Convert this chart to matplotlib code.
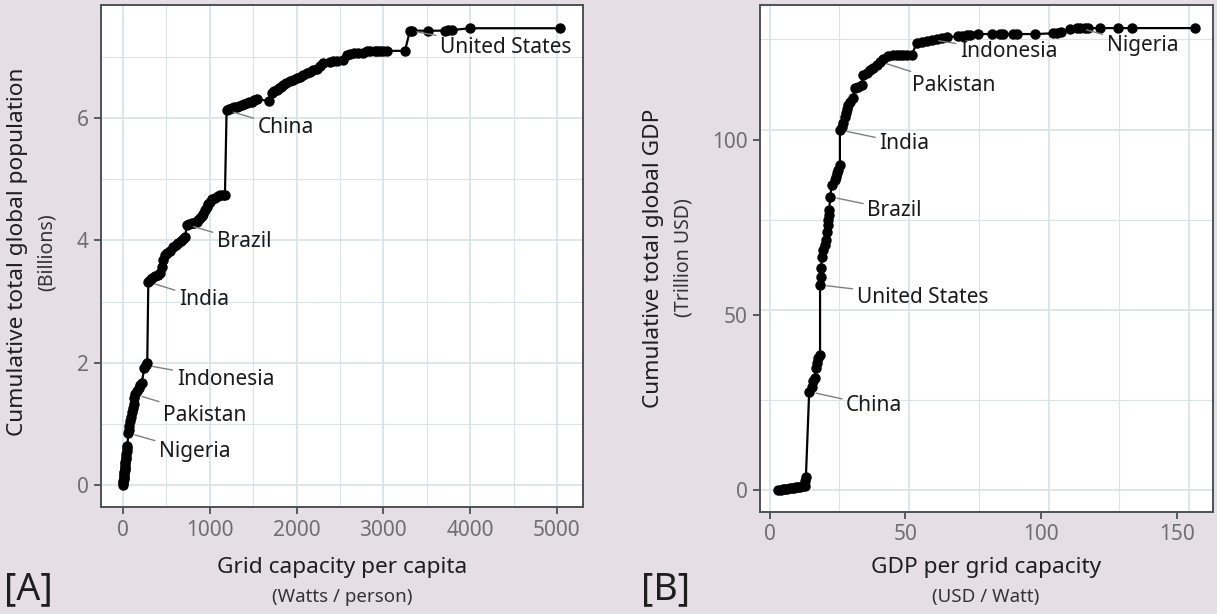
import matplotlib
matplotlib.use("Agg")
import matplotlib.pyplot as plt

plt.rcParams['font.family'] = ['Noto Sans', 'DejaVu Sans']

# panel A: grid capacity per capita (W/person) vs cumulative population (billions)
pop_capacity = [2, 4, 6, 8, 10, 12, 14, 16, 19, 21, 23, 26, 29, 32, 36, 40, 43, 47, 52,
                60, 66, 72, 80, 90, 100, 110, 122, 132,
                142, 160, 180, 200, 215, 248,
                262, 280,
                292, 311, 340, 369, 400, 426, 446, 465, 484, 512, 541, 580, 610, 637, 665, 695, 718,
                734, 762, 791, 820, 849, 870, 887, 905, 925, 945, 964, 985, 1002, 1030, 1060, 1090, 1117, 1150, 1175,
                1194, 1220, 1252, 1280, 1310, 1340, 1367, 1395, 1425, 1455, 1483, 1510, 1540, 1686, 1713, 1740,
                1771, 1800, 1820, 1847, 1880, 1924, 1960, 2001, 2040, 2077, 2120, 2154, 2190, 2231, 2270, 2307,
                2385, 2420, 2462, 2538, 2577, 2620, 2660, 2711, 2760, 2807, 2850, 2900, 2922, 2961, 2995, 3038, 3249,
                3306, 3330, 3518, 3710, 3740, 3787, 3998, 5035]
pop_cumulative = [0.00, 0.03, 0.06, 0.09, 0.12, 0.15, 0.18, 0.21, 0.24, 0.27, 0.30, 0.34, 0.38, 0.42, 0.46, 0.50, 0.55, 0.60, 0.64,
                  0.85, 0.90, 0.96, 1.04, 1.12, 1.20, 1.26, 1.33, 1.42,
                  1.48, 1.53, 1.58, 1.63, 1.67, 1.92,
                  1.96, 2.00,
                  3.32, 3.35, 3.38, 3.41, 3.44, 3.47, 3.57, 3.68, 3.76, 3.80, 3.83, 3.90, 3.93, 3.96, 3.99, 4.02, 4.05,
                  4.26, 4.27, 4.28, 4.29, 4.30, 4.33, 4.36, 4.40, 4.44, 4.50, 4.55, 4.59, 4.63, 4.67, 4.70, 4.72, 4.74, 4.75, 4.75,
                  6.13, 6.15, 6.16, 6.18, 6.19, 6.20, 6.21, 6.23, 6.24, 6.26, 6.27, 6.29, 6.31, 6.28, 6.41, 6.44,
                  6.46, 6.49, 6.51, 6.54, 6.57, 6.60, 6.62, 6.65, 6.67, 6.70, 6.73, 6.76, 6.78, 6.81, 6.85, 6.90,
                  6.92, 6.93, 6.94, 6.95, 7.03, 7.05, 7.06, 7.06, 7.07, 7.09, 7.09, 7.09, 7.09, 7.10, 7.10, 7.10, 7.10,
                  7.43, 7.43, 7.43, 7.43, 7.44, 7.44, 7.47, 7.47]

# panel B: GDP per grid capacity (USD/W) vs cumulative GDP (trillion USD)
gdp_per_capacity = [3.3, 4.2, 5.0, 5.8, 6.6, 7.4, 8.2, 9.0, 9.8, 10.6, 11.4, 12.2, 13.0, 13.2, 13.4,
                    14.6, 15.5, 16.1, 16.7, 17.0, 17.4, 18.0, 18.6,
                    18.6, 18.8, 19.0, 19.2, 19.8, 20.4, 20.8, 21.0, 21.4, 21.6, 21.9, 22.0,
                    22.3, 22.9, 24.1, 24.5, 24.7, 25.3, 25.9,
                    25.9, 26.6, 27.2, 27.8, 28.1, 28.6, 29.0, 29.6, 30.6, 31.4, 32.7, 33.9, 34.5, 35.8, 37.0, 38.2, 39.5,
                    40.7, 41.9, 43.7, 45.6, 47.0, 48.0, 49.2, 50.5, 52.3, 54.2, 56.0, 57.9,
                    59.7, 61.5, 63.4, 65.2, 69.5, 70.7, 72.6, 73.7, 76.8, 81.7, 84.8, 86.0, 89.6, 90.9, 97.6,
                    104.3, 105.7, 107.4, 110.5, 113.0,
                    114.2, 116.0, 117.3, 121.6, 128.3, 133.3, 156.6]
gdp_cumulative = [0.0, 0.1, 0.2, 0.3, 0.4, 0.5, 0.6, 0.7, 0.8, 0.8, 0.9, 1.0, 1.2, 2.5, 3.8,
                  28.1, 29.5, 31.0, 31.9, 34.8, 36.2, 37.6, 38.6,
                  58.6, 61.0, 63.3, 66.7, 68.6, 70.0, 71.4, 73.8, 75.7, 77.1, 78.6, 80.0,
                  83.8, 87.1, 88.6, 89.5, 90.5, 91.4, 92.9,
                  102.9, 103.8, 104.8, 106.7, 107.6, 109.0, 110.0, 110.9, 111.9, 114.8, 115.2, 115.7, 118.6, 119.2, 120.0, 120.5, 121.4,
                  122.4, 123.3, 124.0, 124.3, 124.3, 124.3, 124.3, 124.3, 124.4, 127.6, 128.0, 128.4,
                  128.7, 129.0, 129.3, 129.5, 129.6, 129.7, 129.9, 130.0, 130.3, 130.3, 130.3, 130.3, 130.3, 130.3, 130.3,
                  130.5, 130.7, 131.0, 131.6, 131.9,
                  132.0, 132.0, 132.0, 132.0, 132.0, 132.0, 132.0]

countries = ["Nigeria", "Pakistan", "Indonesia", "India", "Brazil", "China", "United States"]
# the labelled country's point in each panel
a_country_x = [60, 142, 262, 292, 734, 1194, 3306]
a_country_y = [0.85, 1.48, 1.96, 3.32, 4.26, 6.13, 7.43]
b_country_x = [114.2, 40.7, 59.7, 25.9, 22.3, 14.6, 18.6]
b_country_y = [132.0, 122.4, 128.7, 102.9, 83.8, 28.1, 58.6]
# where the label text sits (left edge, vertical centre)
a_text_xy = [(415, 0.54), (461, 1.14), (619, 1.72), (645, 3.04), (1083, 3.98), (1552, 5.84), (3652, 7.15)]
b_text_xy = [(124.1, 127.1), (52.4, 115.7), (70.1, 125.2), (40.4, 99.0), (36.0, 80.0), (28.2, 24.0), (32.1, 55.1)]

W, H = 1217, 614
bg = "#e5dfe5"
grid_col = "#dbe3e9"
frame_col = "#4b5157"
tick_txt = "#6f6f6f"
title_col = "#1e1e1e"

fig = plt.figure(figsize=(W / 100, H / 100), dpi=100, facecolor=bg)


def px_axes(left, top, right, bottom):
    return fig.add_axes([left / W, 1 - bottom / H, (right - left) / W, (bottom - top) / H])


def style(ax, xmaj, xmin, ymaj, ymin):
    ax.set_facecolor("white")
    for v in xmin:
        ax.axvline(v, color=grid_col, lw=0.8, zorder=0)
    for v in ymin:
        ax.axhline(v, color=grid_col, lw=0.8, zorder=0)
    for v in xmaj:
        ax.axvline(v, color=grid_col, lw=1.3, zorder=0)
    for v in ymaj:
        ax.axhline(v, color=grid_col, lw=1.3, zorder=0)
    for s in ax.spines.values():
        s.set_color(frame_col)
        s.set_linewidth(1.4)
    ax.tick_params(length=5, width=1.3, color=frame_col, labelcolor=tick_txt,
                   labelsize=15, pad=4)


def draw(ax, xs, ys, names, cx, cy, txy):
    ax.plot(xs, ys, color="black", lw=1.6, marker="o", ms=6.5, zorder=3)
    for name, x0, y0, (tx, ty) in zip(names, cx, cy, txy):
        ax.annotate(name, xy=(x0, y0), xytext=(tx, ty), fontsize=15, color="#1a1a1a",
                    ha="left", va="center", zorder=4,
                    arrowprops=dict(arrowstyle="-", color="#7f7f7f", lw=1.0,
                                    shrinkA=1, shrinkB=5))


# ---- panel A
ax1 = px_axes(101, 5, 583, 507)
style(ax1, [0, 1000, 2000, 3000, 4000, 5000], [500, 1500, 2500, 3500, 4500],
      [0, 2, 4, 6], [1, 3, 5, 7])
draw(ax1, pop_capacity, pop_cumulative, countries, a_country_x, a_country_y, a_text_xy)
ax1.set_xlim(-253, 5300)
ax1.set_ylim(-0.36, 7.85)
ax1.set_xticks([0, 1000, 2000, 3000, 4000, 5000])
ax1.set_yticks([0, 2, 4, 6])

# ---- panel B (grid lines sit on a different spacing than the tick labels)
ax2 = px_axes(760, 5, 1213, 512)
style(ax2, [0, 51.5, 103, 154.5], [25.75, 77.25, 128.75],
      [0, 51.5, 103], [25.75, 77.25, 128.75])
draw(ax2, gdp_per_capacity, gdp_cumulative, countries, b_country_x, b_country_y, b_text_xy)
ax2.set_xlim(-3.5, 163.2)
ax2.set_ylim(-6.3, 138.6)
ax2.set_xticks([0, 50, 100, 150])
ax2.set_yticks([0, 50, 100])


# axis titles
def ftxt(x, y, s, size, color=title_col, rot=0, ha="center"):
    fig.text(x / W, 1 - y / H, s, fontsize=size, color=color, rotation=rot,
             ha=ha, va="center")


ftxt(18, 252, "Cumulative total global population", 16.3, rot=90)
ftxt(47, 252, "(Billions)", 14, color="#333333", rot=90)
ftxt(342, 568, "Grid capacity per capita", 16.3)
ftxt(342, 597, "(Watts / person)", 13.5, color="#333333")
ftxt(654, 258, "Cumulative total global GDP", 16.3, rot=90)
ftxt(684, 258, "(Trillion USD)", 14, color="#333333", rot=90)
ftxt(986, 568, "GDP per grid capacity", 16.3)
ftxt(986, 597, "(USD / Watt)", 13.5, color="#333333")
ftxt(4, 589, "[A]", 27, ha="left")
ftxt(641, 589, "[B]", 27, ha="left")

fig.savefig("out.png", dpi=100, facecolor=bg)
